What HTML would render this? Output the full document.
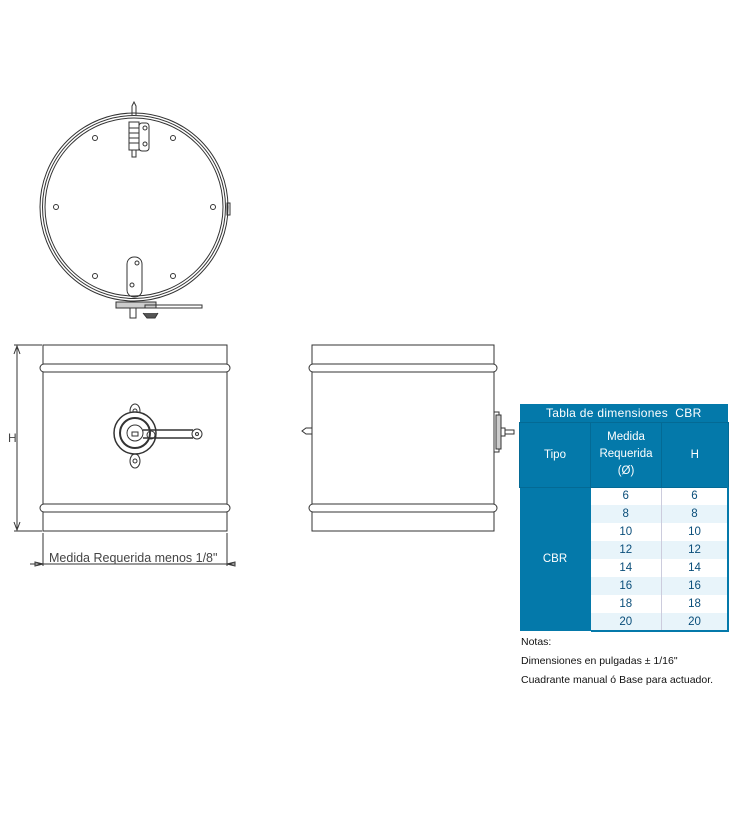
<!DOCTYPE html>
<html><head><style>
body{margin:0;background:#fff;width:739px;height:814px;overflow:hidden;position:relative;font-family:"Liberation Sans",sans-serif}
svg{position:absolute;left:0;top:0}
.t{position:absolute;left:519px;top:404px;width:210px;border-collapse:collapse;font-size:11.5px}
.t td{text-align:center;padding:0;color:#fff}
.n{position:absolute;left:521px;font-size:10.5px;color:#111}
</style></head><body>
<svg width="739" height="814" viewBox="0 0 739 814" fill="none" stroke="#333" stroke-width="1">
<circle cx="134" cy="207" r="94"/><circle cx="134" cy="207" r="91.5"/><circle cx="134" cy="207" r="89"/>
<rect x="227" y="203" width="3" height="12"/>
<path d="M132 115 L132 106 L134 102 L136 106 L136 115"/>
<rect x="129" y="122" width="10" height="28"/><path d="M129 128h10M129 133h10M129 138h10M129 143h10"/>
<rect x="139" y="123" width="10" height="28" rx="3"/><circle cx="145" cy="128" r="2"/><circle cx="145" cy="144" r="2"/>
<path d="M132 150v7h4v-7"/>
<circle cx="95" cy="138" r="2.5"/><circle cx="173" cy="138" r="2.5"/><circle cx="56" cy="207" r="2.5"/><circle cx="213" cy="207" r="2.5"/><circle cx="95" cy="276" r="2.5"/><circle cx="173" cy="276" r="2.5"/>
<rect x="127" y="257" width="15" height="40" rx="7"/><circle cx="137" cy="263" r="2"/><circle cx="132" cy="285" r="2"/>
<rect x="116" y="302" width="40" height="6" fill="#ccc"/><rect x="145" y="305" width="57" height="3"/>
<rect x="130" y="308" width="6" height="10"/><path d="M143 313l4 5h8l3-5" fill="#555"/>
<rect x="43" y="345" width="184" height="186"/>
<rect x="40" y="364" width="190" height="8" rx="4" fill="#fff"/><rect x="40" y="504" width="190" height="8" rx="4" fill="#fff"/>
<path d="M14 345h28M14 531h28M17 348v180M14 354l3-8 3 8M14 522l3 8 3-8"/>
<path d="M43 533v33M227 533v33M30 564h205M43 564l-8-2v4zM227 564l8-2v4z"/>
<ellipse cx="135" cy="411" rx="5" ry="7"/><ellipse cx="135" cy="461" rx="5" ry="7"/><circle cx="135" cy="411" r="2"/><circle cx="135" cy="461" r="2"/>
<circle cx="135" cy="433" r="21" fill="#fff" stroke-width="1.5"/><circle cx="135" cy="433" r="15" stroke-width="2"/><circle cx="135" cy="433" r="8"/>
<rect x="132" y="432" width="6" height="4"/>
<path d="M143 430h50M143 438h50" stroke-width="1.5"/><circle cx="197" cy="434" r="5"/><circle cx="197" cy="434" r="1.5"/><circle cx="151" cy="435" r="4"/>
<rect x="312" y="345" width="182" height="186"/>
<rect x="309" y="364" width="188" height="8" rx="4" fill="#fff"/><rect x="309" y="504" width="188" height="8" rx="4" fill="#fff"/>
<path d="M312 428h-6l-4 3 4 3h6"/>
<rect x="494" y="412" width="5" height="40"/><rect x="496" y="415" width="5" height="34" fill="#ccc"/>
<path d="M501 428h4v8h-4M505 430h9v4h-9"/>
</svg>
<table class="t">
<tr style="height:18px;background:#0479aa"><td colspan="3" style="font-size:12px;letter-spacing:.3px">Tabla de dimensiones&nbsp; CBR</td></tr>
<tr style="height:65px;background:#0479aa"><td style="width:70px;border:1px solid #046a95">Tipo</td><td style="width:70px;border:1px solid #046a95;line-height:17px">Medida<br>Requerida<br>(Ø)</td><td style="border:1px solid #046a95">H</td></tr>
<tr style="height:18px"><td rowspan="8" style="background:#0479aa">CBR</td><td style="color:#0a4e7a;background:#fff;border-right:1px solid #ccd">6</td><td style="color:#0a4e7a;background:#fff;border-right:2px solid #0479aa">6</td></tr>
<tr style="height:18px;background:#e8f4fa"><td style="color:#0a4e7a;border-right:1px solid #ccd">8</td><td style="color:#0a4e7a;border-right:2px solid #0479aa">8</td></tr>
<tr style="height:18px"><td style="color:#0a4e7a;border-right:1px solid #ccd">10</td><td style="color:#0a4e7a;border-right:2px solid #0479aa">10</td></tr>
<tr style="height:18px;background:#e8f4fa"><td style="color:#0a4e7a;border-right:1px solid #ccd">12</td><td style="color:#0a4e7a;border-right:2px solid #0479aa">12</td></tr>
<tr style="height:18px"><td style="color:#0a4e7a;border-right:1px solid #ccd">14</td><td style="color:#0a4e7a;border-right:2px solid #0479aa">14</td></tr>
<tr style="height:18px;background:#e8f4fa"><td style="color:#0a4e7a;border-right:1px solid #ccd">16</td><td style="color:#0a4e7a;border-right:2px solid #0479aa">16</td></tr>
<tr style="height:18px"><td style="color:#0a4e7a;border-right:1px solid #ccd">18</td><td style="color:#0a4e7a;border-right:2px solid #0479aa">18</td></tr>
<tr style="height:18px;background:#e8f4fa"><td style="color:#0a4e7a;border-right:1px solid #ccd;border-bottom:2px solid #0479aa">20</td><td style="color:#0a4e7a;border-right:2px solid #0479aa;border-bottom:2px solid #0479aa">20</td></tr>
</table>
<div class="n" style="top:636px">Notas:</div>
<div class="n" style="top:655px">Dimensiones en pulgadas ± 1/16"</div>
<div class="n" style="top:674px">Cuadrante manual ó Base para actuador.</div>
<div style="position:absolute;left:8px;top:431px;font-size:12px;color:#444">H</div>
<div style="position:absolute;left:49px;top:551px;font-size:12.5px;color:#444">Medida Requerida menos 1/8"</div>
</body></html>
